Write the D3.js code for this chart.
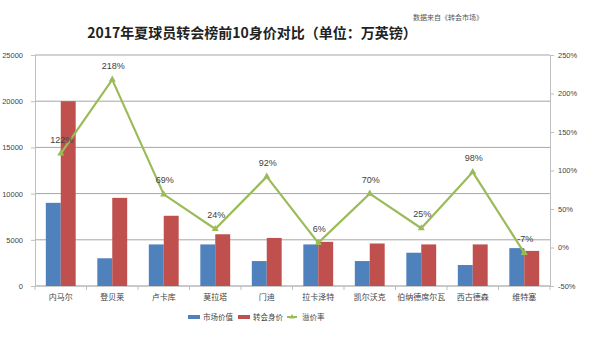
<!DOCTYPE html>
<html>
<head>
<meta charset="utf-8">
<script src="https://cdn.jsdelivr.net/npm/d3@7"></script>
<style>
  html, body { margin: 0; padding: 0; background: #fff; }
  svg { display: block; font-family: "Noto Sans CJK SC", "Microsoft YaHei", sans-serif; }
</style>
</head>
<body>
<svg id="chart" width="600" height="337"></svg>
<script>
// 2017 summer transfer top 10: market value vs. transfer fee (unit: 10k GBP)
const players = ["内马尔", "登贝莱", "卢卡库", "莫拉塔", "门迪", "拉卡泽特", "凯尔沃克", "伯纳德席尔瓦", "西古德森", "维特塞"];
const marketValue = [9000, 3000, 4500, 4500, 2700, 4500, 2700, 3600, 2270, 4100];
const transferFee = [20000, 9540, 7600, 5600, 5200, 4780, 4600, 4500, 4500, 3800];
const premiumRate = [122, 218, 69, 24, 92, 6, 70, 25, 98, -7];
const leftTicks = [0, 5000, 10000, 15000, 20000, 25000];
const rightTicks = [-50, 0, 50, 100, 150, 200, 250];
const seriesNames = ["市场价值", "转会身价", "溢价率"];
const colors = ["#4f81bd", "#c0504d", "#9bbb59"];

const svg = d3.select("#chart");
const plot = { left: 35, right: 550, top: 55, bottom: 286 };

const x0 = d3.scaleBand().domain(players).range([plot.left, plot.right]).paddingInner(0.42).paddingOuter(0.21);
const x1 = d3.scaleBand().domain([0, 1]).range([0, x0.bandwidth()]);
const yL = d3.scaleLinear().domain([0, 25000]).range([plot.bottom, plot.top]);
const yR = d3.scaleLinear().domain([-50, 250]).range([plot.bottom, plot.top]);
const xc = d => x0(d) + x0.bandwidth() / 2;

// title and source note
svg.append("text").attr("x", 252).attr("y", 38).attr("text-anchor", "middle")
  .attr("font-size", 14).attr("font-weight", "bold").attr("fill", "#222")
  .text("2017年夏球员转会榜前10身价对比（单位：万英镑）");
svg.append("text").attr("x", 448).attr("y", 20).attr("text-anchor", "middle")
  .attr("font-size", 7).attr("fill", "#555").text("数据来自《转会市场》");

// horizontal gridlines from the left axis
svg.append("g").selectAll("line").data(leftTicks).join("line")
  .attr("x1", plot.left).attr("x2", plot.right)
  .attr("y1", d => yL(d)).attr("y2", d => yL(d))
  .attr("stroke", "#a6a6a6").attr("stroke-width", 1);

// left axis
const gL = svg.append("g").attr("transform", `translate(${plot.left},0)`)
  .call(d3.axisLeft(yL).tickValues(leftTicks).tickFormat(d3.format("d")).tickSize(4).tickPadding(8));
gL.select(".domain").attr("stroke", "#bfbfbf");
gL.selectAll(".tick line").attr("stroke", "#bfbfbf");
gL.selectAll("text").attr("font-size", 7.5).attr("fill", "#444").attr("font-family", "Liberation Sans, Arial, sans-serif");

// right axis
const gR = svg.append("g").attr("transform", `translate(${plot.right},0)`)
  .call(d3.axisRight(yR).tickValues(rightTicks).tickFormat(d => d + "%").tickSize(4).tickPadding(4));
gR.select(".domain").attr("stroke", "#bfbfbf");
gR.selectAll(".tick line").attr("stroke", "#bfbfbf");
gR.selectAll("text").attr("font-size", 7.5).attr("fill", "#444").attr("font-family", "Liberation Sans, Arial, sans-serif");

// bottom axis: category separators and labels
const gB = svg.append("g").attr("transform", `translate(0,${plot.bottom})`);
gB.append("line").attr("x1", plot.left).attr("x2", plot.right).attr("stroke", "#bfbfbf");
const step = x0.step();
gB.selectAll(".sep").data(d3.range(players.length + 1)).join("line")
  .attr("x1", i => plot.left + i * step).attr("x2", i => plot.left + i * step)
  .attr("y1", 0).attr("y2", 4).attr("stroke", "#bfbfbf");
gB.selectAll(".lbl").data(players).join("text")
  .attr("x", d => xc(d)).attr("y", 14).attr("text-anchor", "middle")
  .attr("font-size", 8).attr("fill", "#444").text(d => d);

// bars
const groups = svg.append("g").selectAll("g").data(players).join("g")
  .attr("transform", d => `translate(${x0(d)},0)`);
groups.append("rect")
  .attr("x", x1(0)).attr("width", x1.bandwidth())
  .attr("y", (d, i) => yL(marketValue[i])).attr("height", (d, i) => yL(0) - yL(marketValue[i]))
  .attr("fill", colors[0]);
groups.append("rect")
  .attr("x", x1(1)).attr("width", x1.bandwidth())
  .attr("y", (d, i) => yL(transferFee[i])).attr("height", (d, i) => yL(0) - yL(transferFee[i]))
  .attr("fill", colors[1]);

// premium rate line on the right axis
const line = d3.line().x((d, i) => xc(players[i])).y(d => yR(d));
svg.append("path").datum(premiumRate).attr("d", line)
  .attr("fill", "none").attr("stroke", colors[2]).attr("stroke-width", 2.2);
svg.append("g").selectAll("path").data(premiumRate).join("path")
  .attr("d", d3.symbol(d3.symbolTriangle, 22))
  .attr("transform", (d, i) => `translate(${xc(players[i])},${yR(d)})`)
  .attr("fill", colors[2]);
svg.append("g").selectAll("text").data(premiumRate).join("text")
  .attr("x", (d, i) => xc(players[i]) + 1).attr("y", d => yR(d) - 11)
  .attr("text-anchor", "middle").attr("font-size", 9).attr("fill", "#404040")
  .attr("font-family", "Liberation Sans, Arial, sans-serif")
  .text(d => d + "%");

// legend
const lg = svg.append("g").attr("transform", "translate(188,317)");
const lgItems = [
  { x: 0, name: seriesNames[0], c: colors[0], type: "rect" },
  { x: 50, name: seriesNames[1], c: colors[1], type: "rect" },
  { x: 99, name: seriesNames[2], c: colors[2], type: "line" }
];
lgItems.forEach(it => {
  if (it.type === "rect") {
    lg.append("rect").attr("x", it.x).attr("y", -2).attr("width", 12).attr("height", 4).attr("fill", it.c);
  } else {
    lg.append("line").attr("x1", it.x).attr("x2", it.x + 10).attr("y1", 0).attr("y2", 0)
      .attr("stroke", it.c).attr("stroke-width", 2);
    lg.append("path").attr("d", d3.symbol(d3.symbolTriangle, 12)).attr("transform", `translate(${it.x + 5},0)`).attr("fill", it.c);
  }
  lg.append("text").attr("x", it.x + 15).attr("y", 3).attr("font-size", 7.5).attr("fill", "#444").text(it.name);
});
</script>
</body>
</html>
